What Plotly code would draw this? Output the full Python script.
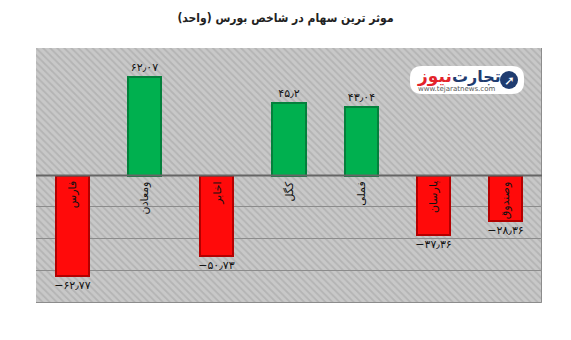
import plotly.graph_objects as go

# ---- data ----
symbols = ["فارس", "ومعادن", "اخابر", "کگل", "فملی", "پارسان", "وصندوق"]
values = [-62.77, 62.07, -50.73, 45.2, 43.04, -37.36, -28.36]
value_labels = ["−۶۲٫۷۷", "۶۲٫۰۷", "−۵۰٫۷۳", "۴۵٫۲", "۴۳٫۰۴", "−۳۷٫۳۶", "−۲۸٫۳۶"]
y_min, y_max = -80, 80
band_bases = [-80, -60, -40, -20, 0]
band_sizes = [20, 20, 20, 20, 80]
title = "موثر ترین سهام در شاخص بورس (واحد)"

FONT = "DejaVu Sans"
W, H = 571, 340
ML, MR, MT, MB = 36, 29, 48, 37
PW, PH = W - ML - MR, H - MT - MB

def px(x):
    return (x - ML) / PW

def py(y):
    return (H - MB - y) / PH

n = len(symbols)
xs = list(range(n))
fill = ["#00b04f" if v >= 0 else "#ff0a0a" for v in values]
edge = ["#04803c" if v >= 0 else "#b30000" for v in values]

fig = go.Figure()

# hatched background bands (edges give the horizontal gridlines)
fig.add_trace(go.Bar(
    x=[(n - 1) / 2] * len(band_bases), base=band_bases, y=band_sizes, width=n,
    marker=dict(color="#c4c4c4",
                pattern=dict(shape="\\", size=5, solidity=0.35,
                             fgcolor="#a0a0a0", bgcolor="#c8c8c8"),
                line=dict(color="#8c8c8c", width=1)),
    hoverinfo="skip", showlegend=False))

fig.add_trace(go.Bar(
    x=xs, y=values, width=0.46,
    marker=dict(color=fill, line=dict(color=edge, width=2)),
    text=value_labels, textposition="outside", textangle=0,
    textfont=dict(family=FONT, size=11, color="#111111"),
    constraintext="none", cliponaxis=False, showlegend=False))

# category labels rotated at the zero line
for i, s in enumerate(symbols):
    fig.add_annotation(x=i, y=0, text=s, textangle=-90, showarrow=False,
                       yanchor="top", xanchor="center", yshift=-4,
                       font=dict(family=FONT, size=11, color="#111111"))

shapes = [
    dict(type="line", xref="paper", yref="y", x0=0, x1=1, y0=0, y1=0,
         line=dict(color="#666666", width=2), layer="above"),
]

# logo box
x0, x1, y0, y1, r = 410, 524, 66, 94, 12
path = (f"M {px(x0 + r)} {py(y0)} L {px(x1 - r)} {py(y0)} "
        f"Q {px(x1)} {py(y0)} {px(x1)} {py(y0 + r)} L {px(x1)} {py(y1 - r)} "
        f"Q {px(x1)} {py(y1)} {px(x1 - r)} {py(y1)} L {px(x0 + r)} {py(y1)} "
        f"Q {px(x0)} {py(y1)} {px(x0)} {py(y1 - r)} L {px(x0)} {py(y0 + r)} "
        f"Q {px(x0)} {py(y0)} {px(x0 + r)} {py(y0)} Z")
shapes.append(dict(type="path", xref="paper", yref="paper", path=path,
                   fillcolor="white", line=dict(width=0), layer="above"))
shapes.append(dict(type="circle", xref="paper", yref="paper",
                   x0=px(500), x1=px(518), y0=py(71), y1=py(89),
                   fillcolor="#1f3c70", line=dict(width=0), layer="above"))
fig.update_layout(shapes=shapes)

def logo_text(x, y, text, size, color):
    fig.add_annotation(xref="paper", yref="paper", x=px(x), y=py(y), text=text,
                       showarrow=False, xanchor="center", yanchor="middle",
                       font=dict(family=FONT, size=size, color=color))

logo_text(509, 80, "➚", 13, "white")
logo_text(476, 76, "<b>تجارت</b>", 16, "#1f3c70")
logo_text(434, 76, "<b>نیوز</b>", 17, "#e3232b")
logo_text(456, 89, "www.tejaratnews.com", 7, "#555555")

fig.update_layout(
    width=W, height=H,
    margin=dict(l=ML, r=MR, t=MT, b=MB),
    paper_bgcolor="white", plot_bgcolor="#c6c6c6",
    barmode="overlay", bargap=0,
    title=dict(text="<b>" + title + "</b>", x=0.5, xanchor="center",
               y=1 - 18 / H, yanchor="middle", yref="container",
               font=dict(family="DejaVu Sans Condensed, DejaVu Sans", size=12, color="#222222")),
    xaxis=dict(range=[-0.5, n - 0.5], visible=False),
    yaxis=dict(range=[y_min, y_max], visible=False),
)

fig.write_html("out.html")
